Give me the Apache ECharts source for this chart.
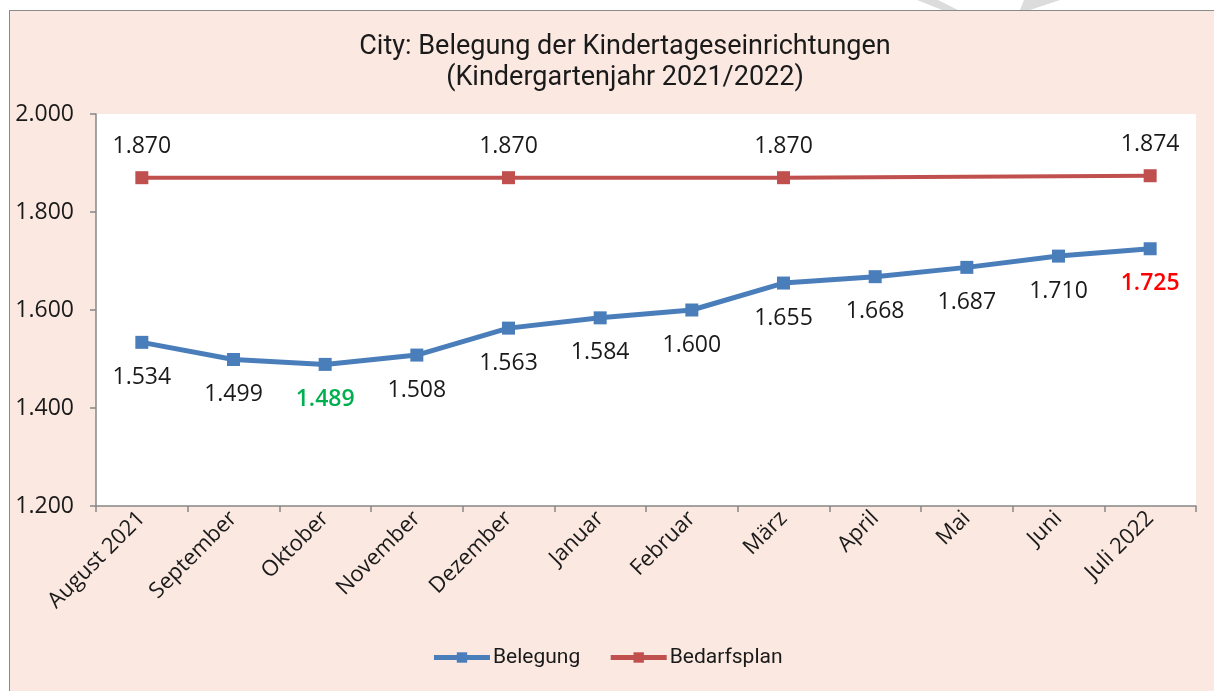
<!DOCTYPE html>
<html>
<head>
<meta charset="utf-8">
<script src="https://cdn.jsdelivr.net/npm/echarts@6/dist/echarts.min.js"></script>
<style>
  html, body { margin: 0; padding: 0; background: #ffffff; }
  #frame { position: absolute; left: 9px; top: 10px; width: 1210px; height: 690px;
           background: #FAE8E1; border-left: 1.5px solid #8a8a8a; border-top: 1.5px solid #8a8a8a; }
  #chart { position: absolute; left: 0; top: 0; width: 1214px; height: 691px; }
</style>
</head>
<body>
<div id="frame"></div>
<div id="chart"></div>
<script>
// ---- data ----
const titleLines = ['City: Belegung der Kindertageseinrichtungen', '(Kindergartenjahr 2021/2022)'];
const categories = ['August 2021', 'September', 'Oktober', 'November', 'Dezember', 'Januar',
                    'Februar', 'März', 'April', 'Mai', 'Juni', 'Juli 2022'];
const belegung = [1534, 1499, 1489, 1508, 1563, 1584, 1600, 1655, 1668, 1687, 1710, 1725];
const bedarfsplan = [1870, null, null, null, 1870, null, null, 1870, null, null, null, 1874];
const yTicks = [1200, 1400, 1600, 1800, 2000];
const seriesNames = ['Belegung', 'Bedarfsplan'];

function fmt(v) { return String(v).replace(/\B(?=(\d{3})+(?!\d))/g, '.'); }

const minIdx = belegung.indexOf(Math.min(...belegung));
const lastIdx = belegung.length - 1;

const blueData = belegung.map((v, i) => {
  const item = { value: v };
  if (i === minIdx) item.label = { color: '#00B050', fontWeight: 600 };
  if (i === lastIdx) item.label = { color: '#FF0000', fontWeight: 600 };
  return item;
});

const chart = echarts.init(document.getElementById('chart'), null, { renderer: 'canvas' });
const textColor = '#1a1a1a';
const axisColor = '#878787';
const blue = '#4A7EBB';
const red = '#C0504D';

chart.setOption({
  backgroundColor: 'transparent',
  animation: false,
  title: {
    text: titleLines.join('\n'),
    left: 620,
    textAlign: 'center',
    top: 27,
    textStyle: { fontFamily: 'Roboto', fontSize: 27, fontWeight: 'normal', color: textColor, lineHeight: 31 }
  },
  graphic: [
    { type: 'polygon', shape: { points: [[917, 0], [938, 0], [958, 10], [942, 10]] }, style: { fill: '#dcdcdc' }, z: -1 },
    { type: 'polygon', shape: { points: [[1024, 0], [1060, 0], [1030, 10], [1020, 10]] }, style: { fill: '#dcdcdc' }, z: -1 }
  ],
  legend: {
    bottom: 18,
    left: 'center',
    itemWidth: 56,
    itemHeight: 13,
    itemGap: 28,
    textStyle: { fontFamily: 'Roboto', fontSize: 21, color: textColor, padding: [0, 0, 0, -2] },
    data: [
      { name: seriesNames[0], lineStyle: { width: 5, color: blue }, itemStyle: { color: blue } },
      { name: seriesNames[1], lineStyle: { width: 5, color: red }, itemStyle: { color: red } }
    ]
  },
  grid: {
    left: 96, right: 18, top: 114, bottom: 185,
    show: true, backgroundColor: '#ffffff', borderWidth: 0
  },
  xAxis: {
    type: 'category',
    data: categories,
    boundaryGap: true,
    axisLine: { lineStyle: { color: axisColor, width: 1.5 } },
    axisTick: { show: true, length: 6, lineStyle: { color: axisColor, width: 1.5 } },
    axisLabel: { rotate: 45, margin: 9, fontFamily: 'Open Sans', fontSize: 22, color: textColor, interval: 0 }
  },
  yAxis: {
    type: 'value',
    min: yTicks[0], max: yTicks[yTicks.length - 1], interval: yTicks[1] - yTicks[0],
    axisLine: { show: true, lineStyle: { color: axisColor, width: 1.5 } },
    axisTick: { show: true, length: 6, lineStyle: { color: axisColor, width: 1.5 } },
    splitLine: { show: false },
    axisLabel: { margin: 22, fontFamily: 'Open Sans', fontSize: 23, color: textColor, formatter: v => fmt(v) }
  },
  series: [
    {
      name: seriesNames[0],
      type: 'line',
      data: blueData,
      symbol: 'rect',
      symbolSize: 13,
      lineStyle: { color: blue, width: 5 },
      itemStyle: { color: blue },
      label: {
        show: true, position: 'bottom', distance: 17,
        fontFamily: 'Open Sans', fontSize: 23, color: textColor,
        formatter: p => fmt(p.value)
      },
      z: 3
    },
    {
      name: seriesNames[1],
      type: 'line',
      data: bedarfsplan,
      connectNulls: true,
      symbol: 'rect',
      symbolSize: 13,
      lineStyle: { color: red, width: 4 },
      itemStyle: { color: red },
      label: {
        show: true, position: 'top', distance: 13,
        fontFamily: 'Open Sans', fontSize: 23, color: textColor,
        formatter: p => fmt(p.value)
      },
      z: 2
    }
  ]
});
</script>
</body>
</html>
